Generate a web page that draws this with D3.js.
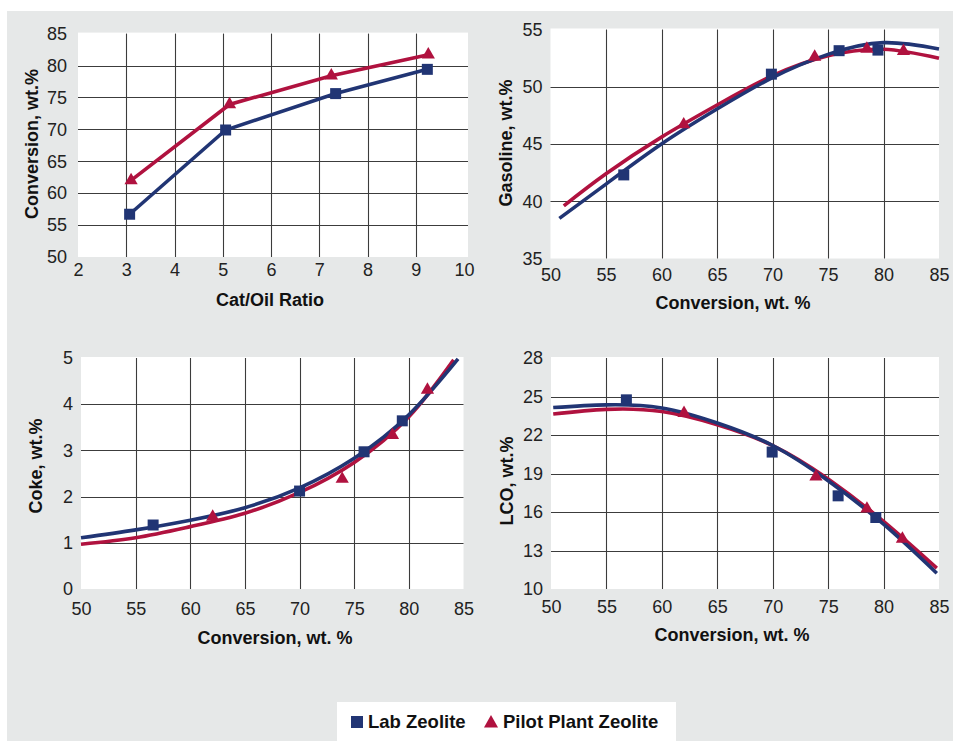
<!DOCTYPE html>
<html>
<head>
<meta charset="utf-8">
<script src="https://cdn.jsdelivr.net/npm/d3@7/dist/d3.min.js"></script>
<style>
  html, body { margin: 0; padding: 0; background: #fff; }
  svg { display: block; font-family: "Liberation Sans", Arial, sans-serif; }
</style>
</head>
<body>
<svg id="chart" width="953" height="741"></svg>
<script>
// ---------- DATA ----------
const seriesNames = ["Lab Zeolite", "Pilot Plant Zeolite"];

// Chart 1: Conversion vs Cat/Oil ratio
const catOilLab = [3.07, 5.06, 7.34, 9.24];
const convLab = [56.7, 69.9, 75.6, 79.4];
const catOilPilot = [3.10, 5.14, 7.25, 9.26];
const convPilot = [62.0, 73.9, 78.4, 81.7];

// Chart 2: Gasoline vs Conversion (points)
const gasConvLab = [56.6, 69.9, 76.0, 79.5];
const gasLab = [42.3, 51.1, 53.15, 53.2];
const gasConvPilot = [62.0, 73.8, 78.5, 81.8];
const gasPilot = [46.7, 52.6, 53.3, 53.1];
// Chart 2 trend curves
const gasFitXLab = [50.8, 55, 60, 65, 70, 75, 80, 85];
const gasFitLab = [38.5, 41.5, 45.0, 48.05, 50.8, 52.83, 53.85, 53.3];
const gasFitXPilot = [51.2, 55, 60, 65, 70, 75, 80, 85];
const gasFitPilot = [39.6, 42.4, 45.6, 48.4, 50.96, 52.7, 53.27, 52.48];

// Chart 3: Coke vs Conversion
const cokeConvLab = [56.6, 70.0, 75.9, 79.4];
const cokeLab = [1.385, 2.12, 2.97, 3.64];
const cokeConvPilot = [62.05, 73.9, 78.5, 81.7];
const cokePilot = [1.56, 2.38, 3.33, 4.31];
const cokeFitXLab = [50, 55, 60, 65, 70, 75, 80, 84.5];
const cokeFitLab = [1.11, 1.28, 1.49, 1.76, 2.19, 2.83, 3.77, 4.98];
const cokeFitXPilot = [50, 55, 60, 65, 70, 75, 80, 84.1];
const cokeFitPilot = [0.97, 1.11, 1.35, 1.64, 2.09, 2.74, 3.73, 4.96];

// Chart 4: LCO vs Conversion
const lcoConvLab = [56.8, 69.95, 75.9, 79.3];
const lcoLab = [24.74, 20.67, 17.26, 15.57];
const lcoConvPilot = [62.0, 73.9, 78.5, 81.7];
const lcoPilot = [23.7, 18.76, 16.25, 13.9];
const lcoFitXLab = [50.2, 55, 60, 65, 70, 75, 80, 84.8];
const lcoFitLab = [24.14, 24.35, 24.1, 22.93, 21.18, 18.43, 15.05, 11.23];
const lcoFitXPilot = [50.2, 55, 60, 65, 70, 75, 80, 84.8];
const lcoFitPilot = [23.63, 24.0, 23.83, 22.8, 21.18, 18.58, 15.26, 11.62];

// Ticks
const catOilTicks = [2, 3, 4, 5, 6, 7, 8, 9, 10];
const convTicks = [50, 55, 60, 65, 70, 75, 80, 85];
const gasTicks = [35, 40, 45, 50, 55];
const cokeTicks = [0, 1, 2, 3, 4, 5];
const lcoTicks = [10, 13, 16, 19, 22, 25, 28];

// Titles
const titles = {
  c1x: "Cat/Oil Ratio", c1y: "Conversion, wt.%",
  c2x: "Conversion, wt. %", c2y: "Gasoline, wt.%",
  c3x: "Conversion, wt. %", c3y: "Coke, wt.%",
  c4x: "Conversion, wt. %", c4y: "LCO, wt.%"
};

// ---------- DRAW ----------
const BLUE = "#213574";
const RED = "#b0123f";
const svg = d3.select("#chart");

svg.append("rect").attr("x", 7).attr("y", 11).attr("width", 946).attr("height", 730).attr("fill", "#e6e8e8");

const zip = (xs, ys) => xs.map((x, i) => [x, ys[i]]);

function drawChart(cfg) {
  const x = d3.scaleLinear().domain(cfg.xDomain).range(cfg.xRange);
  const y = d3.scaleLinear().domain(cfg.yDomain).range(cfg.yRange);
  const g = svg.append("g");
  const [x0, x1] = cfg.xRange, [y0, y1] = cfg.yRange;
  g.append("rect").attr("x", x0).attr("y", y1 - 1)
    .attr("width", (cfg.plotRight || x1) - x0).attr("height", y0 - y1 + 1).attr("fill", "#fff");

  // gridlines (interior only)
  const xt = cfg.xTicks, yt = cfg.yTicks;
  g.selectAll(".vg").data(xt.slice(1, -1)).join("line")
    .attr("x1", d => Math.round(x(d)) + 0.5).attr("x2", d => Math.round(x(d)) + 0.5)
    .attr("y1", y1).attr("y2", y0)
    .attr("stroke", "#3c3c3c").attr("stroke-width", 1.1);
  g.selectAll(".hg").data(yt.slice(1, -1)).join("line")
    .attr("y1", d => Math.round(y(d)) + 0.5).attr("y2", d => Math.round(y(d)) + 0.5)
    .attr("x1", x0).attr("x2", cfg.plotRight || x1)
    .attr("stroke", "#3c3c3c").attr("stroke-width", 1.1);

  // axes via d3 axis generators (lines hidden, labels kept)
  const xAxis = g.append("g").attr("transform", `translate(0,${y0 + cfg.xLabelDy})`)
    .call(d3.axisBottom(x).tickValues(xt).tickSize(0).tickPadding(0).tickFormat(d3.format("d")));
  xAxis.select(".domain").remove();
  xAxis.selectAll("text").attr("font-size", 18).attr("fill", "#222")
    .attr("font-family", "'Liberation Sans', Arial, sans-serif").attr("dy", "0.35em");

  const yAxis = g.append("g").attr("transform", `translate(${x0 - cfg.yLabelDx},0)`)
    .call(d3.axisLeft(y).tickValues(yt).tickSize(0).tickPadding(0).tickFormat(d3.format("d")));
  yAxis.select(".domain").remove();
  yAxis.selectAll("text").attr("font-size", 18).attr("fill", "#222")
    .attr("font-family", "'Liberation Sans', Arial, sans-serif");

  // titles
  g.append("text").attr("x", cfg.xTitle[0]).attr("y", cfg.xTitle[1])
    .attr("text-anchor", "middle").attr("dominant-baseline", "central")
    .attr("font-size", 18).attr("font-weight", "bold").attr("fill", "#111").text(cfg.xTitleText);
  g.append("text").attr("transform", `translate(${cfg.yTitle[0]},${cfg.yTitle[1]}) rotate(-90)`)
    .attr("text-anchor", "middle").attr("dominant-baseline", "central")
    .attr("font-size", 18).attr("font-weight", "bold").attr("fill", "#111").text(cfg.yTitleText);

  const line = d3.line().x(d => x(d[0])).y(d => y(d[1]));
  const curve = d3.line().x(d => x(d[0])).y(d => y(d[1])).curve(d3.curveNatural);

  // lines
  if (cfg.fitLab) {
    g.append("path").attr("d", curve(cfg.fitPilot)).attr("fill", "none").attr("stroke", RED).attr("stroke-width", 3.6);
    g.append("path").attr("d", curve(cfg.fitLab)).attr("fill", "none").attr("stroke", BLUE).attr("stroke-width", 3.6);
  } else {
    g.append("path").attr("d", line(cfg.pilot)).attr("fill", "none").attr("stroke", RED).attr("stroke-width", 3.6);
    g.append("path").attr("d", line(cfg.lab)).attr("fill", "none").attr("stroke", BLUE).attr("stroke-width", 3.6);
  }
  // markers
  const sq = d3.symbol().type(d3.symbolSquare).size(121);
  const tri = d3.symbol().type(d3.symbolTriangle).size(76);
  g.selectAll(".sq").data(cfg.lab).join("path")
    .attr("d", sq).attr("transform", d => `translate(${x(d[0])},${y(d[1])})`).attr("fill", BLUE);
  g.selectAll(".tri").data(cfg.pilot).join("path")
    .attr("d", tri).attr("transform", d => `translate(${x(d[0])},${y(d[1])})`).attr("fill", RED);
}

drawChart({
  xDomain: [2, 10], xRange: [78, 464], plotRight: 468,
  yDomain: [50, 85], yRange: [257, 33.6],
  xTicks: catOilTicks, yTicks: convTicks,
  xLabelDy: 13, yLabelDx: 11,
  xTitle: [270, 300], xTitleText: titles.c1x,
  yTitle: [32, 144], yTitleText: titles.c1y,
  lab: zip(catOilLab, convLab), pilot: zip(catOilPilot, convPilot)
});

drawChart({
  xDomain: [50, 85], xRange: [550.5, 939],
  yDomain: [35, 55], yRange: [258.5, 29.5],
  xTicks: convTicks, yTicks: gasTicks,
  xLabelDy: 16.5, yLabelDx: 8,
  xTitle: [733, 303], xTitleText: titles.c2x,
  yTitle: [506, 143], yTitleText: titles.c2y,
  lab: zip(gasConvLab, gasLab), pilot: zip(gasConvPilot, gasPilot),
  fitLab: zip(gasFitXLab, gasFitLab), fitPilot: zip(gasFitXPilot, gasFitPilot)
});

drawChart({
  xDomain: [50, 85], xRange: [81, 463.5],
  yDomain: [0, 5], yRange: [589, 358],
  xTicks: convTicks, yTicks: cokeTicks,
  xLabelDy: 20, yLabelDx: 8,
  xTitle: [275, 638], xTitleText: titles.c3x,
  yTitle: [36, 466], yTitleText: titles.c3y,
  lab: zip(cokeConvLab, cokeLab), pilot: zip(cokeConvPilot, cokePilot),
  fitLab: zip(cokeFitXLab, cokeFitLab), fitPilot: zip(cokeFitXPilot, cokeFitPilot)
});

drawChart({
  xDomain: [50, 85], xRange: [551, 939],
  yDomain: [10, 28], yRange: [589, 358],
  xTicks: convTicks, yTicks: lcoTicks,
  xLabelDy: 18, yLabelDx: 8,
  xTitle: [732, 635], xTitleText: titles.c4x,
  yTitle: [507, 481], yTitleText: titles.c4y,
  lab: zip(lcoConvLab, lcoLab), pilot: zip(lcoConvPilot, lcoPilot),
  fitLab: zip(lcoFitXLab, lcoFitLab), fitPilot: zip(lcoFitXPilot, lcoFitPilot)
});

// ---------- LEGEND ----------
const lg = svg.append("g");
lg.append("rect").attr("x", 337).attr("y", 702).attr("width", 339).attr("height", 45).attr("fill", "#fff");
lg.append("rect").attr("x", 351).attr("y", 716).attr("width", 12).attr("height", 12).attr("fill", BLUE);
lg.append("text").attr("x", 368).attr("y", 727.5).attr("font-size", 18.5).attr("font-weight", "bold")
  .attr("fill", "#111").text(seriesNames[0]);
lg.append("path").attr("d", "M484,727.5 L498,727.5 L491,715 Z").attr("fill", RED);
lg.append("text").attr("x", 503).attr("y", 727.5).attr("font-size", 18.5).attr("font-weight", "bold")
  .attr("fill", "#111").text(seriesNames[1]);
</script>
</body>
</html>
